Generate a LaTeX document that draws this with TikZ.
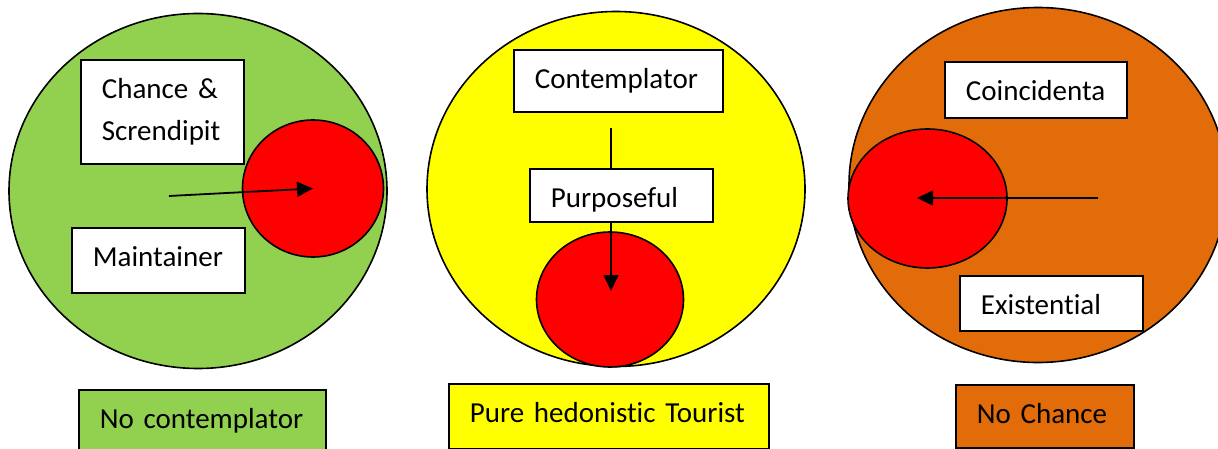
\documentclass[tikz,border=0pt]{standalone}
\usepackage{fontspec}
\setmainfont{Carlito}[Ligatures=NoCommon]
\usetikzlibrary{shapes.geometric,arrows.meta}
\definecolor{cgreen}{HTML}{92D050}
\definecolor{cyellow}{HTML}{FFFF00}
\definecolor{corange}{HTML}{E36C0A}
\definecolor{cred}{HTML}{FF0000}
\tikzset{
  bigell/.style={ellipse, draw=black, line width=1.6pt, inner sep=0pt, minimum width=378pt, minimum height=355pt},
  redell/.style={ellipse, draw=black, line width=1.6pt, fill=cred, inner sep=0pt},
  tbox/.style={rectangle, draw=black, line width=1.8pt, fill=white, anchor=north west,
    inner xsep=21pt, inner ysep=0pt, text height=39pt, align=left,
    font=\fontsize{29}{42}\selectfont},
  arr/.style={line width=1.8pt, -{Triangle[length=16pt,width=15pt]}},
  plain/.style={line width=1.8pt}
}
\begin{document}
\begin{tikzpicture}[x=1pt,y=-1pt]
\useasboundingbox (0,0) rectangle (1218,449);
\clip (0,0) rectangle (1218,449);
% left group
\node[bigell, fill=cgreen] (gE) at (198,191) {};
\node[tbox, text width=121pt, text depth=65pt] (chance) at (80,59) {\mbox{Chance \&}\\\mbox{Screndipit}};
\node[tbox, text width=131pt, text depth=26pt] (maint) at (71,227) {\mbox{Maintainer}};
\node[redell, minimum width=141pt, minimum height=137pt] (gR) at (313,188.5) {};
\coordinate (gS) at (169,196);
\draw[arr] (gS) -- (gR.center);
\node[tbox, fill=cgreen, text width=205pt, text depth=31pt] (nocont) at (78,389) {\mbox{No contemplator}};
% middle group
\node[bigell, fill=cyellow] (yE) at (616,189) {};
\node[tbox, text width=167pt, text depth=23pt] (contemp) at (513,49) {\mbox{Contemplator}};
\node[tbox, text width=141pt, text depth=14pt] (purp) at (529,168) {\mbox{Purposeful}};
\node[redell, minimum width=147pt, minimum height=135pt] (yR) at (610,299.5) {};
\coordinate (yS) at (611,128);
\coordinate (yT) at (611,291);
\draw[plain] (yS) -- (yS |- purp.north);
\draw[arr] (yS |- purp.south) -- (yT);
\node[tbox, fill=cyellow, text width=278pt, text depth=26pt] (pure) at (448,383) {\mbox{Pure hedonistic Tourist}};
% right group
\node[bigell, fill=corange, minimum width=378pt] (oE) at (1038,185) {};
\node[tbox, text width=140pt, text depth=17pt] (coinc) at (944,61) {\mbox{Coincidenta}};
\node[redell, minimum width=159pt, minimum height=139pt] (oR) at (927.5,198.5) {};
\coordinate (oS) at (1098,198);
\coordinate (oT) at (917,198);
\draw[arr] (oS) -- (oT);
\node[tbox, text width=141pt, text depth=16pt] (exist) at (959,275) {\mbox{Existential}};
\node[tbox, fill=corange, text width=136pt, text depth=24pt] (nochance) at (955,384) {\mbox{No Chance}};
\end{tikzpicture}
\end{document}
